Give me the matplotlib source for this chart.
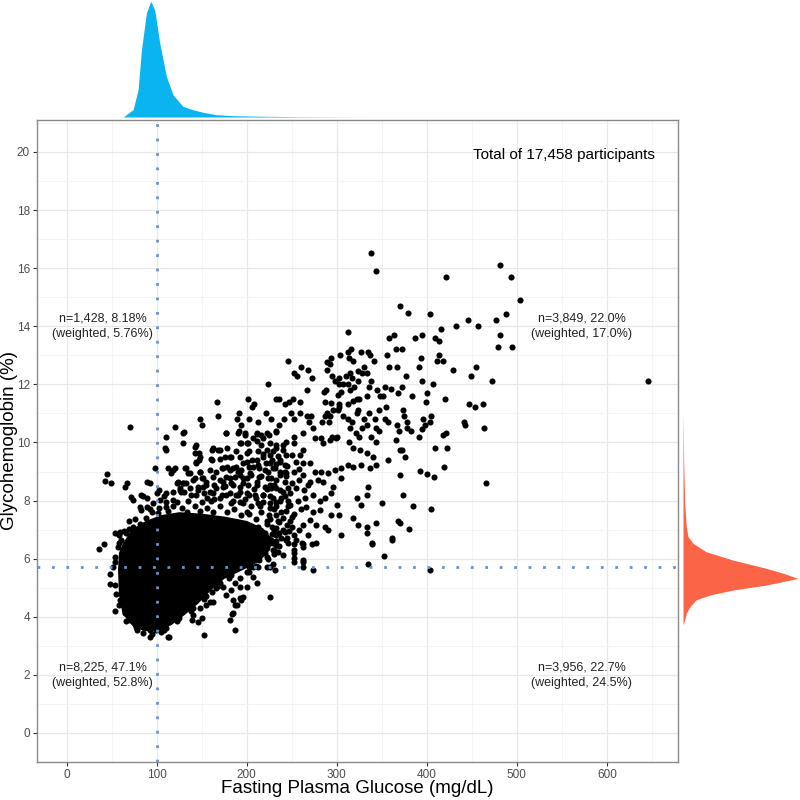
import matplotlib
matplotlib.use("Agg")
import matplotlib.pyplot as plt
import numpy as np

plt.rcParams['font.family'] = ['Liberation Sans', 'DejaVu Sans']

# ---------------- data ----------------
x_ticks = [0, 100, 200, 300, 400, 500, 600]
y_ticks = [0, 2, 4, 6, 8, 10, 12, 14, 16, 18, 20]
x_label = "Fasting Plasma Glucose (mg/dL)"
y_label = "Glycohemoglobin (%)"
glucose_cutoff = 100
hba1c_cutoff = 5.7
total_label = "Total of 17,458 participants"
quadrant_labels = ["n=1,428, 8.18%\n(weighted, 5.76%)",
                   "n=3,849, 22.0%\n(weighted, 17.0%)",
                   "n=8,225, 47.1%\n(weighted, 52.8%)",
                   "n=3,956, 22.7%\n(weighted, 24.5%)"]
quadrant_label_glucose = [40, 572, 40, 572]
quadrant_label_hba1c = [14.0, 14.0, 1.98, 1.98]
total_label_glucose = 552
total_label_hba1c = 19.9

# marginal density of fasting glucose (relative height)
glucose_density_x = [62.6, 73.7, 79.3, 83, 88.5, 93.3, 97.8, 103.3, 110.7, 118,
                     129, 140, 151.5, 166, 185, 222, 259, 333]
glucose_density_y = [0, 7.3, 27.3, 67, 104, 115.7, 107, 74, 40.7, 22.3,
                     10.7, 7.3, 4.7, 2.3, 1.3, 0.7, 0.3, 0]

# marginal density of HbA1c (relative width)
hba1c_density_x = [3.72, 3.89, 4.12, 4.35, 4.58, 4.75, 4.92, 5.09, 5.21, 5.32,
                   5.50, 5.67, 5.95, 6.24, 6.53, 6.76, 7.10, 7.9, 9.28, 11.0]
hba1c_density_y = [0, 1.7, 3.3, 7, 13, 27, 50, 83, 100, 115,
                   100, 83, 50, 23, 10, 5, 3.3, 1.7, 0.7, 0]

# dense core of the scatter (solid region outline)
core_glucose = [62, 72, 88, 105, 125, 150, 175, 200, 218, 228, 226, 214, 195,
                175, 160, 146, 131, 116.7, 103.3, 86.7, 74, 62, 58, 57, 58]
core_hba1c = [6.5, 7.0, 7.3, 7.5, 7.6, 7.55, 7.45, 7.3, 7.05, 6.7, 6.3, 5.9, 5.6,
              5.3, 4.9, 4.45, 4.06, 3.72, 3.52, 3.5, 3.65, 4.1, 4.75, 5.61, 6.2]

# individual participants (glucose mg/dL, HbA1c %)
points_high = [
    (338,16.51),(344,15.90),(421,15.71),(481,16.11),(494,15.71),(504,14.90),(370,14.71),(379,14.47),
    (404,14.41),(446,14.20),(477,14.20),(488,14.41),(312,13.81),(358,13.61),(364,13.70),(387,13.61),
    (395,13.70),(409,13.61),(413,13.50),(416,13.91),(432,14.01),(457,14.01),(481,13.70),(479,13.30),
    (495,13.30),(366,13.21),(372,13.21),(316,13.21),(313,13.13),(327,13.10),(335,13.10),(337,13.01),
    (341,12.82),(356,13.01),(394,12.90),(413,13.01),(411,12.82),(418,12.82),(391,12.61),(358,12.61),
    (367,12.61),(429,12.51),(455,12.61),(449,12.30),(472,12.10),(246,12.82),(260,12.61),(268,12.51),
    (253,12.40),(256,12.30),(272,12.21),(289,12.76),(294,12.90),(293,12.70),(304,13.01),(314,12.90),
    (318,12.82),(289,12.51),(295,12.30),(303,12.21),(310,12.30),(315,12.40),(324,12.46),(330,12.61),
    (328,12.40),(334,12.40),(224,12.01),(267,11.81),(286,11.73),(288,11.81),(298,12.10),(303,12.01),
    (307,12.01),(313,12.01),(317,12.21),(324,12.10),(319,11.91),(315,11.81),(305,11.73),(301,11.63),
    (322,11.51),(325,11.51),(318,11.42),(312,11.31),(294,11.35),(287,11.40),(302,11.31),(333,11.61),
    (336,11.91),(338,12.10),(345,11.81),(348,11.61),(351,11.61),(353,11.91),(360,11.85),(368,11.70),
    (372,11.91),(377,12.30),(383,11.61),(395,12.10),(407,12.01),(400,11.70),(399,11.40),(420,11.51),
    (447,11.31),(454,11.21),(462,11.31),(201,11.51),(208,11.31),(206,11.21),(233,11.51),(236,11.51),
    (243,11.31),(247,11.40),(251,11.51),(259,11.40),(221,11.00),(227,10.81),(213,10.70),(202,10.81),
    (191,11.00),(189,10.81),(194,10.60),(191,10.41),(198,10.32),(211,10.32),(216,10.26),(225,10.26),
    (233,10.41),(236,10.60),(241,10.81),(249,11.00),(253,10.81),(259,11.00),(267,10.91),(271,10.91),
    (269,10.70),(274,10.51),(262,10.32),(284,10.70),(287,10.91),(289,11.00),(293,10.91),(291,10.70),
    (296,11.11),(301,11.11),(303,11.21),(307,10.91),(313,10.81),(317,10.70),(322,11.00),(324,11.12),
    (330,10.81),(333,10.60),(328,10.51),(315,10.51),(321,10.32),(336,11.00),(342,10.81),(347,11.11),
    (355,11.21),(353,10.81),(357,10.70),(344,10.51),(347,10.41),(367,10.60),(373,11.11),(375,10.91),
    (378,10.70),(378,10.51),(382,10.41),(396,10.81),(398,10.60),(405,10.91),(403,10.70),(395,10.45),
    (391,10.20),(418,10.26),(421,10.32),(441,10.70),(442,10.60),(464,10.51),(369,10.41),(283,10.14),
    (295,10.20),(299,10.14),(338,10.20),(325,10.20),(646,12.13),(409,9.80),(422,9.80),(372,9.74),
    (376,9.51),(419,9.14),(392,9.01),(400,8.91),(408,8.80),(370,8.88),(466,8.60),(374,8.19),
    (385,7.81),(405,7.70),(370,7.22),(380,7.01),(404,5.60),
]
points_mid_left = [
    (110,10.20),(109,9.80),(143,9.86),(147,9.63),(161,9.74),(168,9.74),(178,9.80),(160,9.43),
    (170,9.43),(181,9.51),(147,9.40),(144,9.28),(148,9.00),(133,9.11),(118,9.05),(113,9.11),
    (116,8.94),(124,8.65),(129,8.60),(126,8.42),(142,8.77),(150,8.79),(155,8.65),(151,8.48),
    (146,8.37),(159,8.31),(166,8.42),(174,8.65),(172,9.11),(178,9.17),(185,9.11),(192,9.97),
    (200,9.97),(211,10.05),(218,10.15),(203,9.69),(213,9.69),(222,9.74),(192,9.51),(200,9.34),
    (207,9.17),(214,9.11),(224,9.00),(192,8.88),(200,8.77),(211,8.65),(226,8.54),(185,8.54),
    (192,8.31),(177,8.19),(203,8.19),(218,8.19),(89,8.65),(92,8.60),(85,8.14),(89,8.08),
    (98,9.11),(83,7.68),(89,7.79),(96,7.91),(100,8.25),(103,8.37),(190,9.00),(181,8.77),
    (170,8.08),(185,7.97),(196,7.91),(213,7.91),(226,7.91),
    (188,9.70),(196,9.30),(206,9.40),(218,9.60),(221,9.30),(204,8.95),(216,8.85),(196,8.60),
    (208,8.40),(222,8.40),(188,8.20),(198,8.05),(210,8.10),(218,7.95),(182,7.90),(176,8.50),
    (164,8.05),(156,8.10),(138,8.20),(130,8.30),(118,8.30),(108,8.15),(122,7.95),(150,7.95),
    (230,7.70),(225,7.50),(235,7.30),(228,7.10),(220,6.90),(232,6.80),(240,7.00),(245,6.70),
    (238,7.60),(215,7.80),(205,7.80),(200,7.60),(222,7.30),(212,7.10),
]
points_band = [
    (129,10.34),(177,10.32),(190,10.34),(198,10.26),(211,10.29),(222,10.32),(233,10.37),(144,9.91),
    (142,9.63),(148,9.51),(163,9.80),(170,9.74),(176,9.51),(183,9.51),(161,9.40),(194,9.97),
    (201,9.97),(207,10.14),(216,9.91),(226,9.97),(233,9.80),(240,9.91),(244,9.57),(226,9.57),
    (218,9.51),(211,9.40),(200,9.63),(237,9.34),(226,9.28),(242,9.23),
    (120,9.11),(131,9.11),(135,8.94),(148,9.00),(159,9.05),(166,9.00),(174,9.11),(181,9.05),
    (188,9.17),(194,9.05),(203,9.17),(213,9.23),(220,9.05),(229,9.11),(237,9.00),(244,8.94),
    (122,8.59),(129,8.59),(127,8.31),(140,8.71),(151,8.77),(163,8.82),(170,8.71),(177,8.82),
    (187,8.82),(196,8.77),(205,8.88),(214,8.82),(224,8.77),(233,8.71),(242,8.65),(137,8.42),
    (146,8.48),(155,8.54),(164,8.54),(174,8.48),(183,8.59),(192,8.48),(201,8.54),(211,8.54),
    (220,8.48),(227,8.42),(237,8.36),(246,8.42),(144,8.19),(153,8.25),(163,8.25),(172,8.19),
    (181,8.25),(190,8.19),(200,8.25),(209,8.19),(218,8.19),(226,8.14),(242,8.14),
    (110,7.95),(135,8.00),(160,7.98),(192,7.95),(232,7.95),(246,7.80),(250,7.45),(245,7.15),
    (247,6.95),(236,6.45),(230,6.15),(222,6.05),(210,5.75),(200,5.55),(180,5.35),(170,5.15),
    (155,4.70),(140,4.30),(125,3.95),(110,3.60),(95,3.40),(78,3.55),(66,3.85),(58,4.40),
    (54,5.10),(54,5.90),(58,6.55),(64,6.95),(76,7.35),(92,7.70),
    (95,7.60),(102,7.75),(112,7.65),(118,7.80),(128,7.75),(134,7.60),(142,7.80),(148,7.65),
    (156,7.75),(163,7.60),(170,7.80),(178,7.60),(186,7.70),(194,7.50),(203,7.55),(210,7.35),
    (216,7.60),(222,7.20),(230,7.00),(233,6.60),(230,6.30),(224,6.00),(220,6.20),(236,6.90),
    (168,5.05),(152,4.62),(138,4.20),(122,3.85),(108,3.55),(182,5.45),(202,5.70),
]
points_mid_right = [
    (253,10.20),(252,9.97),(276,10.15),(285,9.97),(292,10.09),(300,10.20),(314,10.03),(318,9.80),
    (326,9.74),(333,9.63),(340,9.51),(344,10.03),(366,10.09),(370,9.74),(357,9.40),(344,9.23),
    (337,9.11),(327,9.23),(318,9.17),(313,9.23),(305,9.11),(298,9.05),(283,9.00),(276,9.00),
    (270,9.28),(263,9.28),(255,9.34),(250,9.57),(240,9.74),(237,9.40),(229,9.69),(233,9.92),
    (244,10.03),(263,9.74),(259,9.57),(231,9.11),(227,8.77),(237,8.88),(244,8.83),(253,9.00),
    (263,8.88),(270,8.65),(279,8.71),(285,8.65),(290,8.94),(296,8.48),(294,8.25),(287,8.08),
    (281,7.97),(274,8.19),(264,8.37),(255,8.42),(248,8.25),(240,8.31),(233,8.42),(229,8.08),
    (237,7.97),(248,7.85),(257,7.97),(266,7.79),(274,7.62),(281,7.68),(300,7.85),(294,7.51),
    (302,7.51),(270,7.33),(263,7.16),(277,7.16),(287,7.10),(290,6.99),(268,6.82),(277,6.53),
    (305,6.82),(318,7.39),(324,7.16),(333,7.10),(333,6.87),(344,7.22),(339,6.53),(368,7.28),
    (361,6.70),(322,8.08),(333,8.19),(335,8.48),(327,7.85),(350,7.91),(305,8.77),(233,7.51),
    (240,7.39),(248,7.28),(233,7.05),(242,6.93),(252,6.82),(261,6.53),(229,6.59),
    (228,9.40),(235,9.55),(245,9.20),(250,8.60),(258,8.70),(230,8.55),(238,8.10),(246,8.00),
    (226,7.75),(232,7.80),(244,7.65),(252,7.55),(260,7.70),(236,7.25),(226,7.35),(250,7.10),
    (258,7.00),(228,6.85),(238,6.70),(246,6.55),(255,6.65),(226,6.55),(265,8.10),(268,8.55),
    (242,9.00),(233,9.25),(258,9.10),
]
points_low = [
    (192,5.03),(200,5.03),(211,5.15),(207,5.38),(187,5.15),(183,4.92),(192,4.63),(187,4.40),
    (185,4.12),(181,3.89),(187,3.54),(161,4.86),(159,4.52),(155,4.40),(148,4.29),(150,3.94),
    (146,3.83),(140,4.06),(139,3.89),(126,4.12),(118,4.06),(114,3.94),(153,3.37),(114,3.31),
    (105,3.48),(92,3.54),(85,3.66),(226,4.69),(222,5.72),(213,5.72),(203,5.55),(192,5.32),
    (177,4.75),(174,5.03),(166,4.98),(184,4.10),(189,4.40),(162,4.50),(194,4.58),
    (227,6.64),(233,6.47),(229,6.30),(235,6.24),(240,6.12),(252,6.50),(252,6.30),(252,6.18),
    (253,6.01),(252,5.89),(263,6.50),(272,6.50),(262,5.89),(263,5.72),(274,5.61),(229,5.81),
    (231,5.61),(339,6.50),(352,6.10),(335,5.81),(361,6.64),
    (192,5.95),(200,6.07),(207,5.72),(214,5.95),(226,5.72),(196,4.69),(185,4.58),(263,6.41),
    (263,5.95),(244,6.64),(229,6.53),(218,6.41),
]
points_left = [
    (70.7,10.52),(44.8,8.91),(42.2,8.67),(48.9,8.61),(67,8.59),(64.4,8.45),(71.1,8.13),(73.7,8.02),
    (83,8.19),(81.1,7.79),(69.3,7.31),(58.9,6.93),(57.8,6.81),(53.3,6.89),(69.3,7.01),(35.9,6.32),
    (41.5,6.50),(48.5,5.12),(47.8,5.47),(53.3,4.21),(58.9,4.58),(55.2,4.80),(64.4,4.12),(70,3.89),
    (77.4,3.66),(84.8,3.43),(92.2,3.31),(99.6,3.54),(112.6,3.31),(53.3,6.07),(51.5,5.72),(57,6.41),
    (60.7,6.64),(65.6,6.87),(73.7,7.10),(81.1,7.21),(88.5,7.39),(101.5,7.56),(110.7,7.79),(103.3,8.02),
    (110.7,8.25),(118,8.02),(125.6,8.36),(133,8.59),(136.7,8.94),(144,9.34),(129,9.97),(110.7,9.74),
    (120,10.52),(130,10.37),(150.4,10.60),(147.8,10.80),(168,10.91),(167,11.40),(177.4,10.31),
]

all_points = points_high + points_mid_left + points_band + points_mid_right + points_low + points_left
glucose = [p[0] for p in all_points]
hba1c = [p[1] for p in all_points]

# ---------------- figure ----------------
fig = plt.figure(figsize=(8, 8), dpi=100)
ax = fig.add_axes([0.04625, 0.0475, 0.80125, 0.8025])
ax_top = fig.add_axes([0.04625, 0.85375, 0.80125, 0.14625])
ax_right = fig.add_axes([0.85375, 0.0475, 0.14625, 0.8025])

xlim = (-33, 679)
ylim = (-1.0, 21.1)

ax.set_xlim(*xlim)
ax.set_ylim(*ylim)
ax.set_xticks(x_ticks)
ax.set_yticks(y_ticks)
ax.set_xticks([50, 150, 250, 350, 450, 550, 650], minor=True)
ax.set_yticks([1, 3, 5, 7, 9, 11, 13, 15, 17, 19, 21], minor=True)
ax.grid(which='major', color='#e8e8e8', lw=0.9, zorder=0)
ax.grid(which='minor', color='#f3f3f3', lw=0.6, zorder=0)
ax.set_axisbelow(True)
ax.tick_params(which='major', direction='out', length=3, width=0.8, color='#333333',
               labelsize=8.5, labelcolor='#4d4d4d', pad=2)
ax.tick_params(which='minor', length=0)
for s in ax.spines.values():
    s.set_color('#8a8a8a')
    s.set_linewidth(1.0)

ax.fill(core_glucose, core_hba1c, color='black', lw=0, zorder=2)
ax.plot(glucose, hba1c, 'o', ms=4.4, color='black', mec='none', zorder=3)

ax.axvline(glucose_cutoff, color='#7090c6', lw=2.0, ls=(0, (1, 4.2)),
           dash_capstyle='butt', zorder=4)
ax.axhline(hba1c_cutoff, color='#7090c6', lw=2.0, ls=(0, (1, 4.2)),
           dash_capstyle='butt', zorder=4)

for lab, gx, hy in zip(quadrant_labels, quadrant_label_glucose, quadrant_label_hba1c):
    ax.text(gx, hy, lab, ha='center', va='center', fontsize=9, color='#222222',
            linespacing=1.45, zorder=5)
ax.text(total_label_glucose, total_label_hba1c, total_label, ha='center', va='center',
        fontsize=11, color='black', zorder=5)

ax.set_xlabel(x_label, fontsize=13.5, color='black')
ax.set_ylabel(y_label, fontsize=13.5, color='black')
ax.xaxis.set_label_coords(0.5, -0.042)
ax.yaxis.set_label_coords(-0.0429, 0.5)
ax.xaxis.label.set_va('center')
ax.yaxis.label.set_va('center')

# top marginal
ax_top.fill_between(glucose_density_x, glucose_density_y, 0, color='#0ab4ee', lw=0)
ax_top.set_xlim(*xlim)
ax_top.set_ylim(0, 117)
ax_top.axis('off')

# right marginal
ax_right.fill_betweenx(hba1c_density_x, hba1c_density_y, 0, color='#fb6446', lw=0)
ax_right.set_ylim(*ylim)
ax_right.set_xlim(0, 117)
ax_right.axis('off')

fig.savefig('out.png', dpi=100)
